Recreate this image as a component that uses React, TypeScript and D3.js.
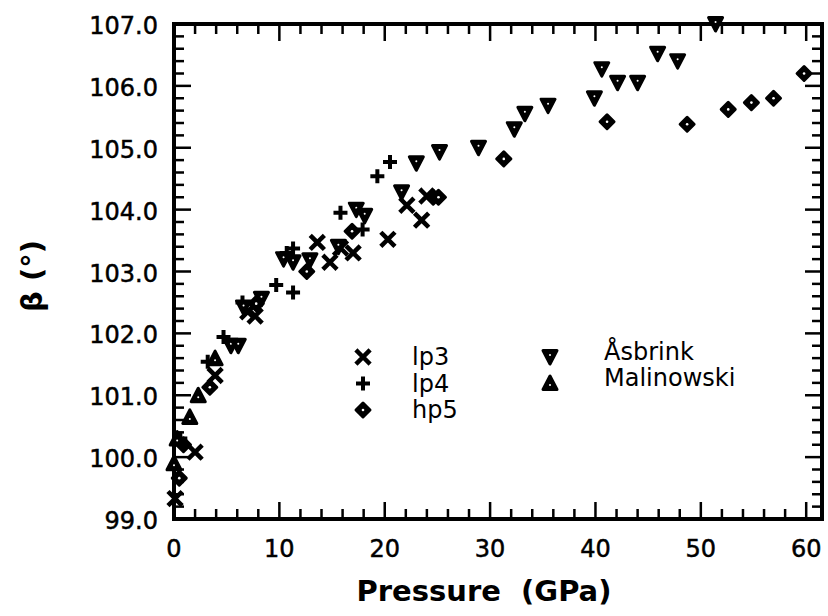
import React, { useEffect, useRef } from "react";
import * as d3 from "d3";

// pressure (GPa), beta (deg)
const lp3 = [
  [0.1, 99.33], [2.0, 100.08], [3.9, 101.32], [7.0, 102.35], [7.7, 102.28],
  [13.6, 103.47], [14.8, 103.15], [15.8, 103.38], [17.0, 103.3], [20.3, 103.52],
  [22.1, 104.07], [23.5, 103.83], [24.0, 104.22],
];
const lp4 = [
  [0.6, 100.3], [3.2, 101.54], [4.7, 101.94], [6.5, 102.5], [9.7, 102.78],
  [11.3, 102.66], [10.7, 103.3], [11.3, 103.37], [15.8, 103.95], [17.9, 103.68],
  [19.3, 104.54], [20.5, 104.77],
];
const hp5 = [
  [0.5, 99.66], [0.9, 100.2], [3.4, 101.13], [7.8, 102.48], [12.6, 103.0],
  [16.9, 103.65], [24.6, 104.2], [25.1, 104.2], [31.3, 104.82], [41.1, 105.42],
  [48.7, 105.38], [52.6, 105.62], [54.8, 105.73], [56.9, 105.8], [59.8, 106.2],
];
const asbrink = [
  [5.4, 101.8], [6.1, 101.8], [6.6, 102.42], [8.3, 102.56], [10.4, 103.2],
  [11.3, 103.15], [12.9, 103.18], [15.6, 103.4], [17.3, 104.0], [18.1, 103.9],
  [21.6, 104.28], [23.0, 104.75], [25.2, 104.93], [28.9, 105.0], [32.3, 105.3],
  [33.3, 105.55], [35.5, 105.68], [39.9, 105.8], [40.6, 106.27], [42.1, 106.05],
  [44.0, 106.05], [45.9, 106.52], [47.8, 106.4], [51.4, 107.0],
];
const malinowski = [
  [0.0, 99.9], [0.3, 100.3], [1.5, 100.65], [2.3, 101.0], [3.9, 101.6],
];

const xTicks = [0, 10, 20, 30, 40, 50, 60];
const yTicks = [99, 100, 101, 102, 103, 104, 105, 106, 107];
const legendLeft = [
  { name: "lp3", shape: "cross" },
  { name: "lp4", shape: "plus" },
  { name: "hp5", shape: "diamond" },
];
const legendRight = [
  { name: "Åsbrink", shape: "down" },
  { name: "Malinowski", shape: "up" },
];

const drawMarker = (g, shape) => {
  if (shape === "cross") {
    g.append("path")
      .attr("d", "M-5.5,-5.5L5.5,5.5M-5.5,5.5L5.5,-5.5")
      .attr("stroke", "#000")
      .attr("stroke-width", 4.5)
      .attr("stroke-linecap", "square");
  } else if (shape === "plus") {
    g.append("path")
      .attr("d", "M-7,0L7,0M0,-7L0,7")
      .attr("stroke", "#000")
      .attr("stroke-width", 4);
  } else if (shape === "diamond") {
    g.append("path")
      .attr("d", "M0,-7L7,0L0,7L-7,0Z")
      .attr("fill", "#000")
      .attr("stroke", "#000")
      .attr("stroke-width", 3)
      .attr("stroke-linejoin", "round");
    g.append("circle").attr("r", 1.3).attr("fill", "#fff");
  } else if (shape === "down") {
    g.append("path")
      .attr("d", "M-7,-6.5L7,-6.5L0,7Z")
      .attr("fill", "#000")
      .attr("stroke", "#000")
      .attr("stroke-width", 3)
      .attr("stroke-linejoin", "round");
    g.append("circle").attr("cx", 0).attr("cy", -2).attr("r", 1).attr("fill", "#fff");
  } else if (shape === "up") {
    g.append("path")
      .attr("d", "M-7,6.5L7,6.5L0,-7Z")
      .attr("fill", "#000")
      .attr("stroke", "#000")
      .attr("stroke-width", 3)
      .attr("stroke-linejoin", "round");
    g.append("circle").attr("cx", 0).attr("cy", 2).attr("r", 1).attr("fill", "#fff");
  }
};

const App = () => {
  const svgRef = useRef(null);

  useEffect(() => {
    const svg = d3.select(svgRef.current);
    svg.selectAll("*").remove();

    const x = d3.scaleLinear().domain([0, 61.5]).range([174, 822]);
    const y = d3.scaleLinear().domain([99, 107]).range([519, 24]);
    const [x0, x1] = x.range();
    const [yb, yt] = y.range();
    const font = "'DejaVu Sans', Verdana, sans-serif";

    // ticks, pointing inward on all four sides
    const ticks = svg.append("g").attr("stroke", "#000").attr("stroke-width", 2.5);
    d3.range(0, 61.5, 2).forEach((v) => {
      const len = v % 10 === 0 ? 17 : 10;
      ticks.append("line").attr("x1", x(v)).attr("x2", x(v)).attr("y1", yb).attr("y2", yb - len);
      ticks.append("line").attr("x1", x(v)).attr("x2", x(v)).attr("y1", yt).attr("y2", yt + len);
    });
    d3.range(99, 107.01, 0.2).forEach((v) => {
      const major = Math.abs(v - Math.round(v)) < 1e-6;
      const len = major ? 17 : 10;
      ticks.append("line").attr("x1", x0).attr("x2", x0 + len).attr("y1", y(v)).attr("y2", y(v));
      ticks.append("line").attr("x1", x1).attr("x2", x1 - len).attr("y1", y(v)).attr("y2", y(v));
    });

    // frame
    svg.append("rect")
      .attr("x", x0).attr("y", yt)
      .attr("width", x1 - x0).attr("height", yb - yt)
      .attr("fill", "none").attr("stroke", "#000").attr("stroke-width", 4);

    // tick labels
    svg.append("g").selectAll("text").data(xTicks).enter().append("text")
      .attr("x", (d) => x(d)).attr("y", 557)
      .attr("text-anchor", "middle")
      .attr("font-family", font).attr("font-size", 24)
      .attr("stroke", "#000").attr("stroke-width", 0.5)
      .text((d) => d);
    svg.append("g").selectAll("text").data(yTicks).enter().append("text")
      .attr("x", 158).attr("y", (d) => y(d) + 10)
      .attr("text-anchor", "end")
      .attr("font-family", font).attr("font-size", 24)
      .attr("stroke", "#000").attr("stroke-width", 0.5)
      .text((d) => d.toFixed(1));

    // axis titles
    svg.append("text")
      .attr("x", 484).attr("y", 601)
      .attr("text-anchor", "middle")
      .attr("font-family", font).attr("font-size", 29).attr("font-weight", "bold")
      .attr("xml:space", "preserve")
      .text("Pressure  (GPa)");
    svg.append("text")
      .attr("transform", "translate(42,276) rotate(-90)")
      .attr("text-anchor", "middle")
      .attr("font-family", font).attr("font-size", 29).attr("font-weight", "bold")
      .text("β (°)");

    // points
    const series = [
      { data: lp3, shape: "cross" },
      { data: lp4, shape: "plus" },
      { data: hp5, shape: "diamond" },
      { data: asbrink, shape: "down" },
      { data: malinowski, shape: "up" },
    ];
    series.forEach((s) => {
      svg.append("g").selectAll("g").data(s.data).enter().append("g")
        .attr("transform", (d) => `translate(${x(d[0])},${y(d[1])})`)
        .each(function () { drawMarker(d3.select(this), s.shape); });
    });

    // legend
    legendLeft.forEach((d, i) => {
      const cy = 357 + i * 26.5;
      drawMarker(svg.append("g").attr("transform", `translate(363,${cy})`), d.shape);
      svg.append("text").attr("x", 412).attr("y", cy + 8)
        .attr("font-family", font).attr("font-size", 24).text(d.name);
    });
    legendRight.forEach((d, i) => {
      const cy = 357 + i * 26;
      drawMarker(svg.append("g").attr("transform", `translate(550,${cy})`), d.shape);
      svg.append("text").attr("x", 604).attr("y", cy + 3)
        .attr("font-family", font).attr("font-size", 24).text(d.name);
    });
  }, []);

  return (
    <div style={{ position: "absolute", left: 0, top: 0, width: 828, height: 616, background: "#fff" }}>
      <svg ref={svgRef} width={828} height={616} />
    </div>
  );
};

export default App;
